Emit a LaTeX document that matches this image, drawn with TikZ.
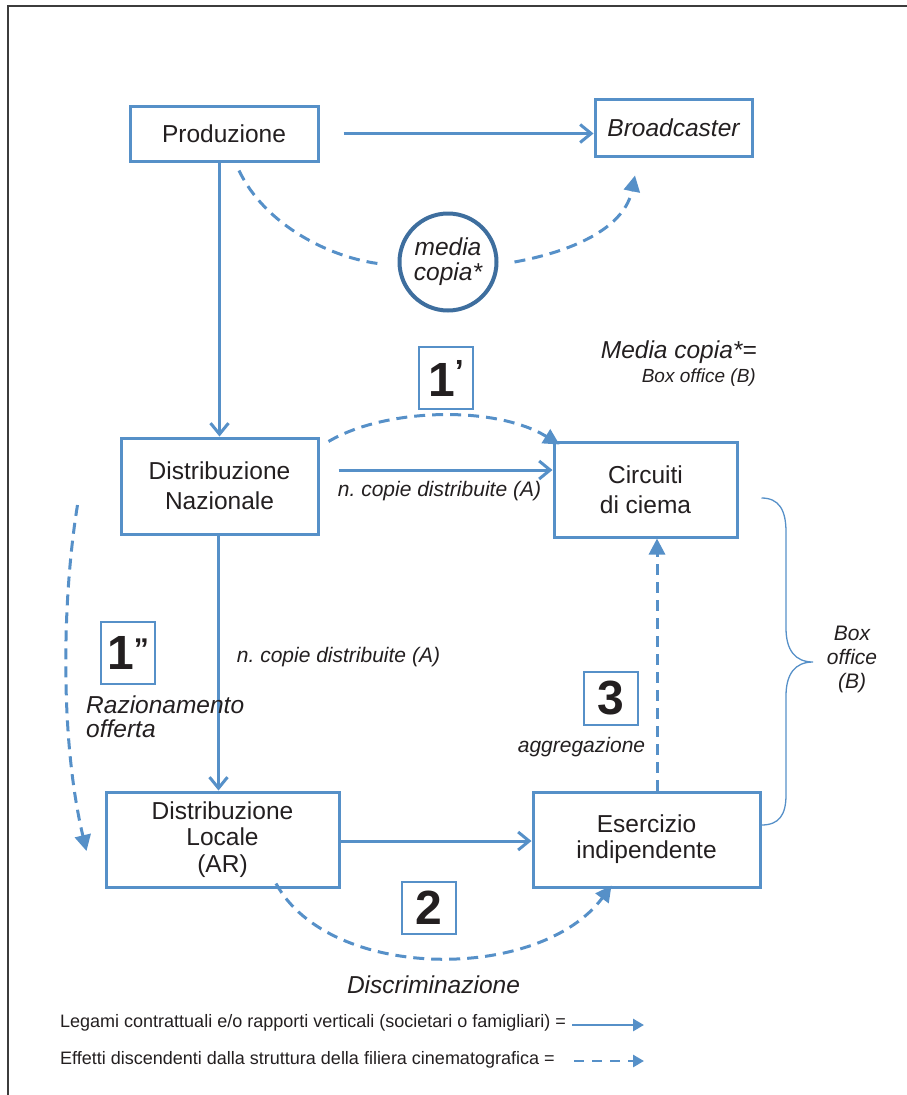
\documentclass[tikz,border=0pt]{standalone}
\usepackage{fontspec}
\setmainfont{Liberation Sans}
\usetikzlibrary{arrows.meta,calc}
\definecolor{lb}{RGB}{86,144,200}
\definecolor{cb}{RGB}{62,110,158}
\definecolor{tx}{RGB}{35,31,32}
\definecolor{fr}{RGB}{60,60,60}
\newcommand\myfs[2]{\fontsize{#1}{#2}\selectfont}
\tikzset{
  mainbox/.style={draw=lb, line width=3pt, fill=white, text=tx, inner sep=0pt, align=center, font=\myfs{24.5}{26}},
  numbox/.style={draw=lb, line width=1.3pt, text=tx, inner sep=0pt, font=\myfs{48}{48}\bfseries},
  conn/.style={draw=lb, line width=3pt, -{Straight Barb[length=11pt,width=18pt]}},
  effect/.style={draw=lb, line width=3pt, dash pattern=on 11pt off 7pt, -{Triangle[length=16pt,width=16pt]}},
  effectline/.style={draw=lb, line width=3pt, dash pattern=on 11pt off 7pt},
  lbl/.style={text=tx, inner sep=0pt, font=\myfs{24.5}{25}\itshape},
  smalllbl/.style={text=tx, inner sep=0pt, font=\myfs{21}{24}\itshape},
  legendtxt/.style={text=tx, inner sep=0pt, anchor=west, font=\myfs{18}{20}},
}
\begin{document}
\begin{tikzpicture}[x=1pt,y=-1pt]
\useasboundingbox (0,0) rectangle (907,1095);
% frame
\draw[fr, line width=1.5pt] (8,1095) -- (8,6) -- (907,6);

% main boxes
\node[mainbox, minimum width=188pt, minimum height=55pt] (prod) at (224,133.5) {Produzione};
\node[mainbox, minimum width=157pt, minimum height=57pt, font=\myfs{24.5}{26}\itshape] (broad) at (673.5,127.5) {Broadcaster};
\node[draw=cb, line width=4pt, circle, minimum size=97pt, inner sep=0pt, align=center, text=tx, font=\myfs{24.5}{25}\itshape] (circ) at (448,262) {media\\copia*};
\node[mainbox, minimum width=197pt, minimum height=96pt, font=\myfs{24.5}{30}] (dn) at (219.5,486) {Distribuzione\\Nazionale};
\node[mainbox, minimum width=183pt, minimum height=95pt, font=\myfs{24.5}{30}] (cc) at (645.5,489.5) {Circuiti\\di ciema};
\node[mainbox, minimum width=233pt, minimum height=95pt, font=\myfs{24.5}{26.5}] (dl) at (222.5,839.5) {Distribuzione\\Locale\\(AR)};
\node[mainbox, minimum width=227pt, minimum height=95pt] (ei) at (646.5,839.5) {Esercizio\\indipendente};

% numbered boxes
\node[numbox, minimum width=54pt, minimum height=62pt] (b1p) at (446,378) {1\raisebox{14pt}{\myfs{32}{32}’}};
\node[numbox, minimum width=54pt, minimum height=62pt] (b1pp) at (128,653) {1\raisebox{10pt}{\myfs{30}{30}”}};
\node[numbox, minimum width=54pt, minimum height=52pt] (b2) at (429,908) {2};
\node[numbox, minimum width=54pt, minimum height=53pt] (b3) at (611,698.5) {3};

% solid connectors
\draw[conn] ($(prod.east)+(24,0)$) -- (prod.east -| broad.west);
\draw[conn] (dn.north |- prod.south) -- (dn.north);
\draw[conn] ($(dn.east)+(19,-16)$) -- ($(cc.west)+(0,-19.5)$);
\draw[conn] ($(dn.south)+(-1,0)$) -- ($(dn.south |- dl.north)+(-1,0)$);
\draw[conn] ($(dl.east)+(0,1.5)$) -- ($(ei.west)+(0,1.5)$);

% dashed effects
\draw[effectline] ($(prod.south)+(15,8)$) .. controls (265,225) and (330,258) .. ($(circ.west)+(-16,2)$);
\draw[effect] ($(circ.east)+(16,0)$) .. controls (580,250) and (625,225) .. ($(broad.south)+(-38.5,18)$);
\draw[effect] ($(dn.north east)+(9,5)$) .. controls (385,408) and (495,405) .. ($(cc.north west)+(7,4)$);
\draw[effect] ($(dn.west)+(-42,19)$) .. controls (62,600) and (60,740) .. ($(dl.west)+(-18,11.5)$);
\draw[effect] ($(dl.south)+(53.5,-5)$) .. controls (330,982) and (540,982) .. ($(ei.south west)+(80,-3)$);
\draw[effect] ($(ei.north)+(10.5,0)$) -- ($(cc.south)+(11.5,0)$);

% brace
\draw[lb, line width=1.3pt] ($(cc.east)+(23,8.5)$) .. controls (779,498) and (786,510) .. (786,532) -- (786,628)
  .. controls (786,650) and (795,662) .. (813,662)
  .. controls (795,662) and (786,674) .. (786,696) -- (786,795)
  .. controls (786,815) and (779,825) .. ($(ei.east)+(0,-14.5)$);

% labels
\node[smalllbl] (la) at (439.5,491) {n.\ copie distribuite (A)};
\node[smalllbl] (lb2) at (338.5,657) {n.\ copie distribuite (A)};
\node[lbl, anchor=east] (mc) at (757,352) {Media copia*=};
\node[text=tx, inner sep=0pt, anchor=east, font=\myfs{19}{22}\itshape] (bo) at (756,378) {Box office (B)};
\node[lbl, anchor=west, align=left, font=\myfs{24.5}{24}\itshape] (raz) at (86,716.5) {Razionamento\\offerta};
\node[smalllbl] (agg) at (581.5,747) {aggregazione};
\node[lbl] (disc) at (433.5,985) {Discriminazione};
\node[smalllbl, align=center] (box) at (852,659) {Box\\office\\(B)};

% legend
\node[legendtxt] (lg1) at (60,1023) {Legami contrattuali e/o rapporti verticali (societari o famigliari) =};
\node[legendtxt] (lg2) at (60,1060) {Effetti discendenti dalla struttura della filiera cinematografica =};
\coordinate (l1a) at (572,1025);
\coordinate (l1b) at (644,1025);
\coordinate (l2a) at (574,1061);
\coordinate (l2b) at (644,1061);
\draw[lb, line width=2.8pt, -{Triangle[length=11pt,width=12pt]}] (l1a) -- (l1b);
\draw[lb, line width=2.8pt, dash pattern=on 10pt off 8pt, -{Triangle[length=11pt,width=12pt]}] (l2a) -- (l2b);
\end{tikzpicture}
\end{document}
